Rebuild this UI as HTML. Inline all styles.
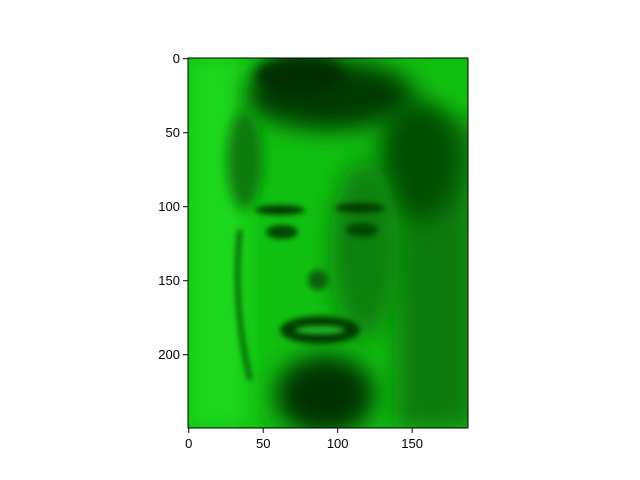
<!DOCTYPE html>
<html><head><meta charset="utf-8">
<style>
html,body{margin:0;padding:0;background:#fff;}
svg{display:block;font-family:"Liberation Sans","DejaVu Sans",sans-serif;}
</style></head>
<body>
<svg id="chart" width="640" height="480" viewBox="0 0 640 480">
<defs>
<filter id="b6" x="-50%" y="-50%" width="200%" height="200%"><feGaussianBlur stdDeviation="6"/></filter>
<filter id="b3" x="-50%" y="-50%" width="200%" height="200%"><feGaussianBlur stdDeviation="3"/></filter>
<filter id="b12" x="-50%" y="-50%" width="200%" height="200%"><feGaussianBlur stdDeviation="12"/></filter>
<clipPath id="clip"><rect x="188" y="58" width="280" height="370"/></clipPath>
</defs>
<g clip-path="url(#clip)">
<rect x="188" y="58" width="280" height="370" fill="#10c010"/>
<!-- left bright -->
<rect x="188" y="58" width="60" height="370" fill="#1ad81a" filter="url(#b12)"/>
<!-- right side darker -->
<rect x="395" y="120" width="80" height="310" fill="#087a08" filter="url(#b12)"/>
<ellipse cx="420" cy="160" rx="40" ry="60" fill="#045004" filter="url(#b12)"/>
<!-- hair top -->
<ellipse cx="330" cy="95" rx="85" ry="35" fill="#043a04" filter="url(#b12)"/>
<ellipse cx="300" cy="75" rx="45" ry="20" fill="#032e03" filter="url(#b6)"/>
<ellipse cx="245" cy="160" rx="18" ry="50" fill="#0a7a0a" filter="url(#b6)"/>
<!-- face right half shadow -->
<ellipse cx="365" cy="250" rx="35" ry="90" fill="#0a800a" filter="url(#b12)"/>
<!-- eyebrows & eyes -->
<ellipse cx="280" cy="210" rx="25" ry="5" fill="#053e05" filter="url(#b3)"/>
<ellipse cx="360" cy="208" rx="25" ry="5" fill="#053e05" filter="url(#b3)"/>
<ellipse cx="282" cy="232" rx="16" ry="7" fill="#064806" filter="url(#b3)"/>
<ellipse cx="362" cy="230" rx="16" ry="7" fill="#064806" filter="url(#b3)"/>
<!-- nose shadow -->
<ellipse cx="318" cy="280" rx="10" ry="10" fill="#076207" filter="url(#b3)"/>
<!-- mouth -->
<ellipse cx="320" cy="330" rx="40" ry="14" fill="#053e05" filter="url(#b3)"/>
<ellipse cx="320" cy="330" rx="25" ry="4" fill="#20c020" filter="url(#b3)"/>
<!-- chin/beard dark -->
<ellipse cx="325" cy="395" rx="50" ry="40" fill="#043004" filter="url(#b12)"/>
<!-- left face edge line -->
<path d="M240 230 Q232 300 250 380" stroke="#064806" stroke-width="4" fill="none" filter="url(#b3)"/>
</g>
<rect x="188" y="58" width="280" height="370" fill="none" stroke="#000" stroke-width="1"/>
<g id="xt"></g>
<g id="yt"></g>
<script>
const xTicks = [0, 50, 100, 150];
const yTicks = [0, 50, 100, 150, 200];
const xExtent = [-0.5, 187.5];
const yExtent = [-0.5, 249.5];
const L = 188, R = 468, T = 58, B = 428;
const sx = v => L + (v - xExtent[0]) / (xExtent[1] - xExtent[0]) * (R - L);
const sy = v => T + (v - yExtent[0]) / (yExtent[1] - yExtent[0]) * (B - T);
const ns = "http://www.w3.org/2000/svg";
const xt = document.getElementById('xt'), yt = document.getElementById('yt');
xTicks.forEach(v => {
  const x = sx(v);
  const l = document.createElementNS(ns, 'line');
  
  
  l.setAttribute('x1', x); l.setAttribute('x2', x); l.setAttribute('y1', B); l.setAttribute('y2', B + 5);
  l.setAttribute('stroke', '#000');
  xt.appendChild(l);
  const t = document.createElementNS(ns, 'text');
  
  
  t.setAttribute('x', x); t.setAttribute('y', B + 20); t.setAttribute('text-anchor', 'middle'); t.setAttribute('font-size', '13');
  t.textContent = v;
  xt.appendChild(t);
});
yTicks.forEach(v => {
  const y = sy(v);
  const l = document.createElementNS(ns, 'line');
  
  
  l.setAttribute('x1', L - 5); l.setAttribute('x2', L); l.setAttribute('y1', y); l.setAttribute('y2', y);
  l.setAttribute('stroke', '#000');
  yt.appendChild(l);
  const t = document.createElementNS(ns, 'text');
  
  
  t.setAttribute('x', L - 8); t.setAttribute('y', y + 4.5); t.setAttribute('text-anchor', 'end'); t.setAttribute('font-size', '13');
  t.textContent = v;
  yt.appendChild(t);
});
</script>
</svg>
</body></html>
